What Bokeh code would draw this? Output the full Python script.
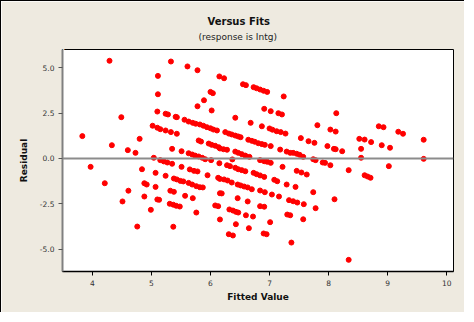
from bokeh.plotting import figure
from bokeh.models import Range1d, FixedTicker, NumeralTickFormatter, Span, Title
from bokeh.embed import file_html
from bokeh.resources import INLINE

fitted = [
    4.29, 4.49, 3.83, 4.80, 4.33, 4.60, 4.73, 3.97, 4.84, 4.21, 4.88, 4.92, 4.61, 4.88, 4.51, 4.99, 4.76,
    5.33, 5.61, 5.78, 5.11, 6.15, 5.11, 6.00, 6.04, 5.89, 5.78, 6.02, 5.10, 5.24, 5.28, 5.41, 5.43,
    5.56, 5.63, 5.70, 5.75, 5.82, 5.88, 5.94, 6.00, 6.05, 6.11,
    5.02, 5.10, 5.15, 5.24, 5.33, 5.43,
    5.80, 5.84, 5.97, 6.02, 6.08, 6.14, 5.35, 5.51,
    5.63, 5.69, 5.74, 5.80, 5.86, 5.91, 6.01, 6.15, 5.04,
    5.15, 5.21, 5.27, 5.35,
    5.51, 5.65, 5.72, 5.78, 5.95, 6.13, 6.16, 5.07, 5.24,
    5.38, 5.43, 5.49, 5.54, 5.63, 5.69, 5.76, 5.82, 5.87,
    5.07, 5.32, 5.38, 5.57, 5.70, 6.16, 5.10, 5.13,
    5.31, 5.37, 5.42, 5.48, 6.08, 6.13, 5.76, 6.16, 5.37,
    6.23, 6.55, 6.60, 6.73, 6.78, 6.84, 6.90, 6.96, 7.24, 6.91, 7.02, 7.15, 7.21, 6.42, 6.68, 6.87,
    7.00, 7.05, 7.12, 7.19, 7.27,
    6.25, 6.31, 6.36, 6.42, 6.47, 6.51,
    6.64, 6.70, 6.75, 6.81, 6.87, 6.92, 7.02, 7.18, 7.29, 7.35,
    6.16, 6.22, 6.28, 6.42, 6.47, 6.53, 6.59, 6.66,
    6.37, 6.84, 6.91, 6.96, 7.02,
    6.28, 6.33, 6.42, 6.47, 6.53, 6.59, 7.22,
    6.73, 6.78, 6.84, 6.91, 7.08, 7.13, 7.29,
    6.23, 6.29, 6.36, 6.46, 6.51, 6.57, 6.63, 6.70,
    6.84, 6.92, 7.04, 7.16, 6.19, 7.33, 6.46, 6.63, 6.84, 6.91,
    6.32, 6.38, 6.43, 6.47, 6.60, 6.72, 7.30, 6.43, 7.01, 6.65, 6.31, 6.38, 6.90, 6.95, 7.37,
    8.13, 7.81, 8.03, 8.12, 7.53, 7.66, 7.76, 7.98, 8.09, 8.12, 8.23, 8.52, 8.55, 8.55,
    7.40, 7.46, 7.51, 7.57, 7.74, 7.78, 7.90, 7.94, 8.03, 8.34,
    7.46, 7.54, 7.63, 7.44, 7.74, 8.10,
    7.40, 7.47, 7.58, 7.78, 7.35, 7.57, 8.34,
    8.85, 8.93, 9.18, 9.26, 8.61, 8.72, 8.90, 9.04, 9.61, 9.61, 9.02, 8.61, 8.66, 8.71,
]

residual = [
    5.37, 2.27, 1.23, 1.08, 0.73, 0.46, 0.31, -0.46, -0.59, -1.36, -1.36, -1.43, -1.77, -2.09, -2.36, -2.82, -3.74,
    5.33, 5.06, 4.85, 4.54, 4.51, 3.53, 3.66, 3.59, 3.20, 2.87, 2.64, 2.58, 2.46, 2.42, 2.29, 2.27,
    2.13, 2.03, 1.96, 1.91, 1.87, 1.80, 1.72, 1.66, 1.59, 1.54,
    1.80, 1.69, 1.61, 1.54, 1.45, 1.36,
    0.99, 0.93, 0.82, 0.75, 0.70, 0.62, 0.53, 0.40,
    0.29, 0.22, 0.16, 0.11, 0.04, -0.04, -0.09, -0.26, 0.04,
    -0.09, -0.16, -0.22, -0.29,
    -0.46, -0.60, -0.68, -0.71, -0.92, -1.06, -1.12, -0.79, -0.95,
    -1.10, -1.15, -1.23, -1.26, -1.34, -1.43, -1.52, -1.58, -1.59,
    -1.56, -1.77, -1.83, -2.05, -2.18, -1.91, -2.25, -2.27,
    -2.49, -2.54, -2.60, -2.64, -2.58, -2.62, -2.97, -3.35, -3.75,
    4.41, 4.08, 4.03, 3.92, 3.86, 3.79, 3.72, 3.66, 3.41, 2.73, 2.60, 2.49, 2.42, 2.24, 1.96, 1.77,
    1.65, 1.58, 1.50, 1.45, 1.37,
    1.45, 1.37, 1.32, 1.26, 1.21, 1.17,
    1.03, 0.97, 0.92, 0.84, 0.79, 0.75, 0.68, 0.49, 0.38, 0.31,
    0.55, 0.51, 0.48, 0.38, 0.31, 0.24, 0.16, 0.09,
    -0.05, -0.09, -0.15, -0.18, -0.24,
    -0.37, -0.42, -0.51, -0.59, -0.64, -0.70, -0.46,
    -0.79, -0.86, -0.93, -1.01, -1.17, -1.25, -1.43,
    -1.15, -1.21, -1.32, -1.43, -1.48, -1.54, -1.59, -1.69,
    -1.76, -1.85, -1.98, -2.09, -1.92, -2.29, -2.18, -2.36, -2.62, -2.65,
    -2.80, -2.86, -2.93, -2.97, -3.12, -3.19, -3.08, -3.61, -3.50, -3.83, -4.16, -4.23, -4.12, -4.16, -4.62,
    2.49, 1.83, 1.59, 1.48, 1.12, 0.95, 0.86, 0.68, 0.53, 0.51, 0.40, 1.08, 0.53, 0.04,
    0.31, 0.26, 0.20, 0.09, -0.04, -0.09, -0.22, -0.24, -0.37, -0.64,
    -0.68, -0.77, -0.88, -1.56, -1.85, -2.24,
    -2.35, -2.42, -2.51, -2.73, -3.12, -3.34, -5.57,
    1.77, 1.72, 1.47, 1.36, 1.04, 0.90, 0.73, 0.59, 1.03, -0.02, -0.42, -0.92, -0.99, -1.06,
]

x_ticks = [4, 5, 6, 7, 8, 9, 10]
y_ticks = [-5.0, -2.5, 0.0, 2.5, 5.0]

title_text = "Versus Fits"
subtitle_text = "(response is Intg)"
x_label = "Fitted Value"
y_label = "Residual"

BG = "#EEEAE0"
FONT = "DejaVu Sans"

p = figure(
    width=464, height=312,
    output_backend="svg", toolbar_location=None,
    x_range=Range1d(3.494, 10.115), y_range=Range1d(-6.21, 5.99),
    background_fill_color="white", border_fill_color=BG,
    min_border_left=61, min_border_right=12, min_border_top=48, min_border_bottom=42,
)
p.styles = {"border-left": "1px solid #000000", "border-top": "1px solid #000000"}

# spacer (drawn in the background colour) between the frame and the subtitle
p.add_layout(Title(text=".", text_font_size="8px", text_color=BG, standoff=0), "above")
p.add_layout(Title(text=subtitle_text, align="left", offset=136, text_font=FONT,
                   text_font_size="9px", text_font_style="normal", text_color="#222222",
                   standoff=2), "above")
p.add_layout(Title(text=title_text, align="left", offset=145, text_font=FONT,
                   text_font_size="10px", text_font_style="bold", text_color="#111111",
                   standoff=3), "above")

p.grid.visible = False
p.outline_line_color = "#000000"
p.outline_line_width = 1

p.add_layout(Span(location=0, dimension="width", line_color="#8C8C8C", line_width=2))

p.scatter(fitted, residual, size=5, marker="circle", fill_color="#FF0000",
          line_color="#FF0000", line_width=1)

p.xaxis.ticker = FixedTicker(ticks=x_ticks)
p.xaxis.formatter = NumeralTickFormatter(format="0")
p.yaxis.ticker = FixedTicker(ticks=y_ticks)
p.yaxis.formatter = NumeralTickFormatter(format="0.0")

for ax in (p.xaxis[0], p.yaxis[0]):
    ax.minor_tick_line_color = None
    ax.major_tick_in = 0
    ax.major_tick_out = 4
    ax.major_label_text_font = FONT
    ax.major_label_text_font_size = "7.5px"
    ax.major_label_text_color = "#333333"
    ax.axis_label_text_font = FONT
    ax.axis_label_text_font_size = "9px"
    ax.axis_label_text_font_style = "bold"
    ax.axis_label_text_color = "#111111"

p.xaxis.axis_label = x_label
p.yaxis.axis_label = y_label
p.xaxis.axis_line_color = "#000000"
p.xaxis.axis_line_width = 1.5
p.xaxis.major_tick_line_color = "#000000"
p.xaxis.major_label_standoff = 4
p.xaxis.axis_label_standoff = 3
p.yaxis.axis_line_color = "#808080"
p.yaxis.axis_line_width = 2
p.yaxis.major_tick_line_color = "#555555"
p.yaxis.major_label_standoff = 4
p.yaxis.axis_label_standoff = 8

open("out.html", "w").write(file_html(p, INLINE))
